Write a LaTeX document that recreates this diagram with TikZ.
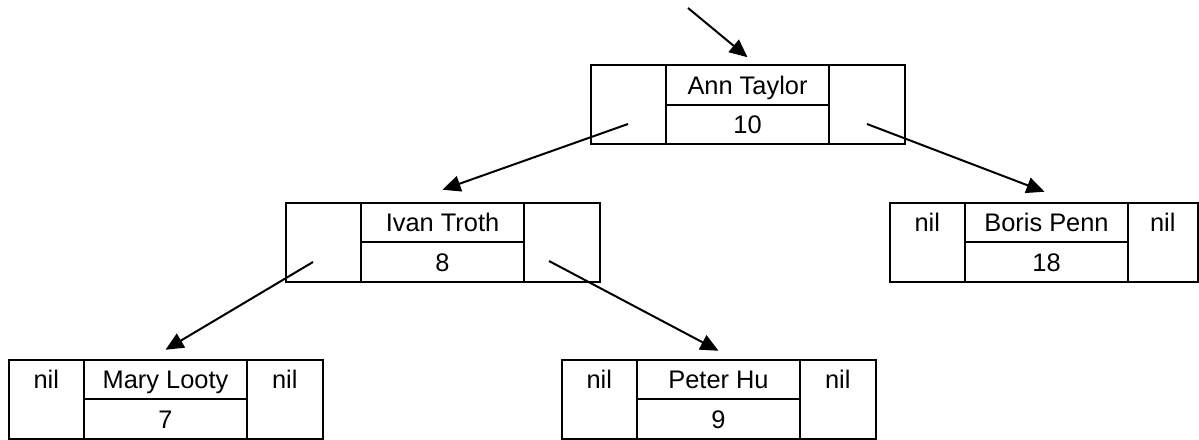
\documentclass[tikz,border=0pt]{standalone}
\usepackage{fontspec}
\setmainfont{Liberation Sans}
\usetikzlibrary{arrows.meta,positioning}
\tikzset{
  namecell/.style={draw, line width=1pt, inner sep=0pt, outer sep=0pt,
    minimum width=81.5pt, minimum height=19.75pt, text height=9pt, text depth=0pt},
  sidecell/.style={draw, line width=1pt, inner sep=0pt, outer sep=0pt,
    minimum width=37.75pt, minimum height=39.5pt},
  niltext/.style={inner sep=0pt, text height=9pt, text depth=0pt},
  link/.style={->, line width=1pt},
}
\begin{document}
\begin{tikzpicture}[x=0.5pt, y=-0.5pt, >={Triangle[length=9pt,width=8pt]},
    font=\fontsize{12.7}{15}\selectfont]
  \useasboundingbox (0,0) rectangle (1199,439);
  % root
  \node[namecell] (at-n) at (747.5,85) {Ann Taylor};
  \node[namecell, below=0pt of at-n] (at-k) {10};
  \node[sidecell, anchor=north east] (at-l) at (at-n.north west) {};
  \node[sidecell, anchor=north west] (at-r) at (at-n.north east) {};
  % second row
  \node[namecell] (it-n) at (442.5,222.5) {Ivan Troth};
  \node[namecell, below=0pt of it-n] (it-k) {8};
  \node[sidecell, anchor=north east] (it-l) at (it-n.north west) {};
  \node[sidecell, anchor=north west] (it-r) at (it-n.north east) {};
  \node[namecell] (bp-n) at (1046.5,222.5) {Boris Penn};
  \node[namecell, below=0pt of bp-n] (bp-k) {18};
  \node[sidecell, anchor=north east] (bp-l) at (bp-n.north west) {};
  \node[sidecell, anchor=north west, minimum width=34.75pt] (bp-r) at (bp-n.north east) {};
  \node[niltext] (bp-ln) at ([yshift=-9.875pt]bp-l.north) {nil};
  \node[niltext] (bp-rn) at ([yshift=-9.875pt]bp-r.north) {nil};
  % leaves
  \node[namecell] (ml-n) at (165.5,379.5) {Mary Looty};
  \node[namecell, below=0pt of ml-n] (ml-k) {7};
  \node[sidecell, anchor=north east] (ml-l) at (ml-n.north west) {};
  \node[sidecell, anchor=north west] (ml-r) at (ml-n.north east) {};
  \node[niltext] (ml-ln) at ([yshift=-9.875pt]ml-l.north) {nil};
  \node[niltext] (ml-rn) at ([yshift=-9.875pt]ml-r.north) {nil};
  \node[namecell] (ph-n) at (718.5,379.5) {Peter Hu};
  \node[namecell, below=0pt of ph-n] (ph-k) {9};
  \node[sidecell, anchor=north east] (ph-l) at (ph-n.north west) {};
  \node[sidecell, anchor=north west] (ph-r) at (ph-n.north east) {};
  \node[niltext] (ph-ln) at ([yshift=-9.875pt]ph-l.north) {nil};
  \node[niltext] (ph-rn) at ([yshift=-9.875pt]ph-r.north) {nil};
  % pointers
  \coordinate (root) at (688,8);
  \coordinate (at-lp) at (628,124);
  \coordinate (at-rp) at (867,124);
  \coordinate (it-lp) at (313,262);
  \coordinate (it-rp) at (549,261);
  \draw[link] (root) -- ([yshift=4pt]at-n.north);
  \draw[link] (at-lp) -- ([yshift=6.5pt]it-n.north);
  \draw[link] (at-rp) -- ([xshift=-1pt,yshift=5.5pt]bp-n.north);
  \draw[link] (it-lp) -- ([yshift=5pt]ml-n.north);
  \draw[link] (it-rp) -- ([yshift=4.5pt]ph-n.north);
\end{tikzpicture}
\end{document}
